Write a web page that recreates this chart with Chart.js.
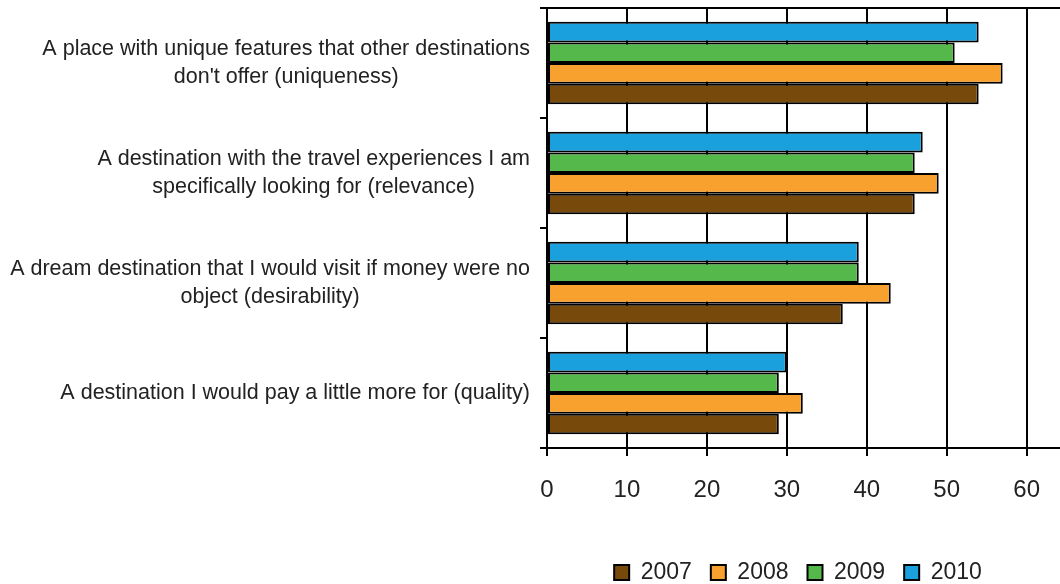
<!DOCTYPE html>
<html>
<head>
<meta charset="utf-8">
<script src="https://cdn.jsdelivr.net/npm/chart.js@4/dist/chart.umd.min.js"></script>
<style>
  html, body { margin: 0; padding: 0; background: #fff; overflow: hidden; }
</style>
</head>
<body>
<canvas id="prefChart" width="1060" height="584"></canvas>
<script>
const categories = [
  ["A place with unique features that other destinations", "don't offer (uniqueness)"],
  ["A destination with the travel experiences I am", "specifically looking for (relevance)"],
  ["A dream destination that I would visit if money were no", "object (desirability)"],
  "A destination I would pay a little more for (quality)"
];
const years = ["2007", "2008", "2009", "2010"];
const values2007 = [54, 46, 37, 29];
const values2008 = [57, 49, 43, 32];
const values2009 = [51, 46, 39, 29];
const values2010 = [54, 47, 39, 30];
const xTickValues = [0, 10, 20, 30, 40, 50, 60];

const FONT = "'Liberation Sans', Arial, sans-serif";
const INK = "#222";

// top to bottom inside each group: 2010, 2009, 2008, 2007
const seriesList = [
  { label: years[3], data: values2010, color: "#1aa0dc" },
  { label: years[2], data: values2009, color: "#55b84b" },
  { label: years[1], data: values2008, color: "#f9a12e" },
  { label: years[0], data: values2007, color: "#774a0c" },
];

// center every multi-line label on its own width, right edge flush to the axis
const labelBlockAlign = {
  id: "labelBlockAlign",
  beforeDraw(chart) {
    const s = chart.scales.y;
    const sizes = s._getLabelSizes();
    const items = s.getLabelItems(chart.chartArea);
    const edge = s.right - s.options.grid.tickLength - s.options.ticks.padding;
    items.forEach((it, i) => {
      it.options.textAlign = "center";
      it.options.translation[0] = edge - sizes.widths[i] / 2;
    });
  },
};

const legendShift = {
  id: "legendShift",
  afterLayout(chart) {
    const lg = chart.legend;
    const dx = 798 - (lg.left + lg.right) / 2;
    lg.left += dx;
    lg.right += dx;
    lg.top += 10;
    lg.bottom += 10;
  },
};

new Chart(document.getElementById("prefChart"), {
  type: "bar",
  data: {
    labels: categories,
    datasets: seriesList.map(s => ({
      label: s.label,
      data: s.data,
      backgroundColor: s.color,
      borderColor: "#000",
      borderWidth: 2,
      borderSkipped: false,
      categoryPercentage: 0.75,
      barPercentage: 1,
    })),
  },
  options: {
    indexAxis: "y",
    responsive: false,
    animation: false,
    layout: { padding: { top: 8, right: 0, left: 0, bottom: 0 } },
    plugins: {
      tooltip: { enabled: false },
      legend: {
        position: "bottom",
        reverse: true,
        labels: {
          boxWidth: 15,
          boxHeight: 15,
          padding: 19,
          color: INK,
          font: { family: FONT, size: 23 },
        },
      },
    },
    scales: {
      x: {
        min: 0,
        max: 64.125,
        afterBuildTicks(scale) {
          scale.ticks = xTickValues.map(v => ({ value: v }));
        },
        afterFit(scale) { scale.height = 84; },
        grid: { color: "#000", lineWidth: 2, tickLength: 8, drawOnChartArea: true },
        border: { color: "#000", width: 2 },
        ticks: { color: INK, padding: 20, font: { family: FONT, size: 24 } },
      },
      xTop: {
        type: "linear",
        position: "top",
        min: 0,
        max: 1,
        afterFit(scale) { scale.height = 0; },
        grid: { drawOnChartArea: false, drawTicks: false },
        border: { color: "#000", width: 2 },
        ticks: { display: false },
      },
      y: {
        afterFit(scale) {
          scale.width = 547;
          scale.paddingTop = 0;
          scale.paddingBottom = 0;
        },
        grid: { color: "#000", lineWidth: 2, tickLength: 7, drawOnChartArea: false, offset: true },
        border: { color: "#000", width: 2 },
        ticks: {
          color: INK,
          padding: 10,
          crossAlign: "center",
          font: { family: FONT, size: 21.5, lineHeight: 1.3 },
        },
      },
    },
  },
  plugins: [labelBlockAlign, legendShift],
});
</script>
</body>
</html>
